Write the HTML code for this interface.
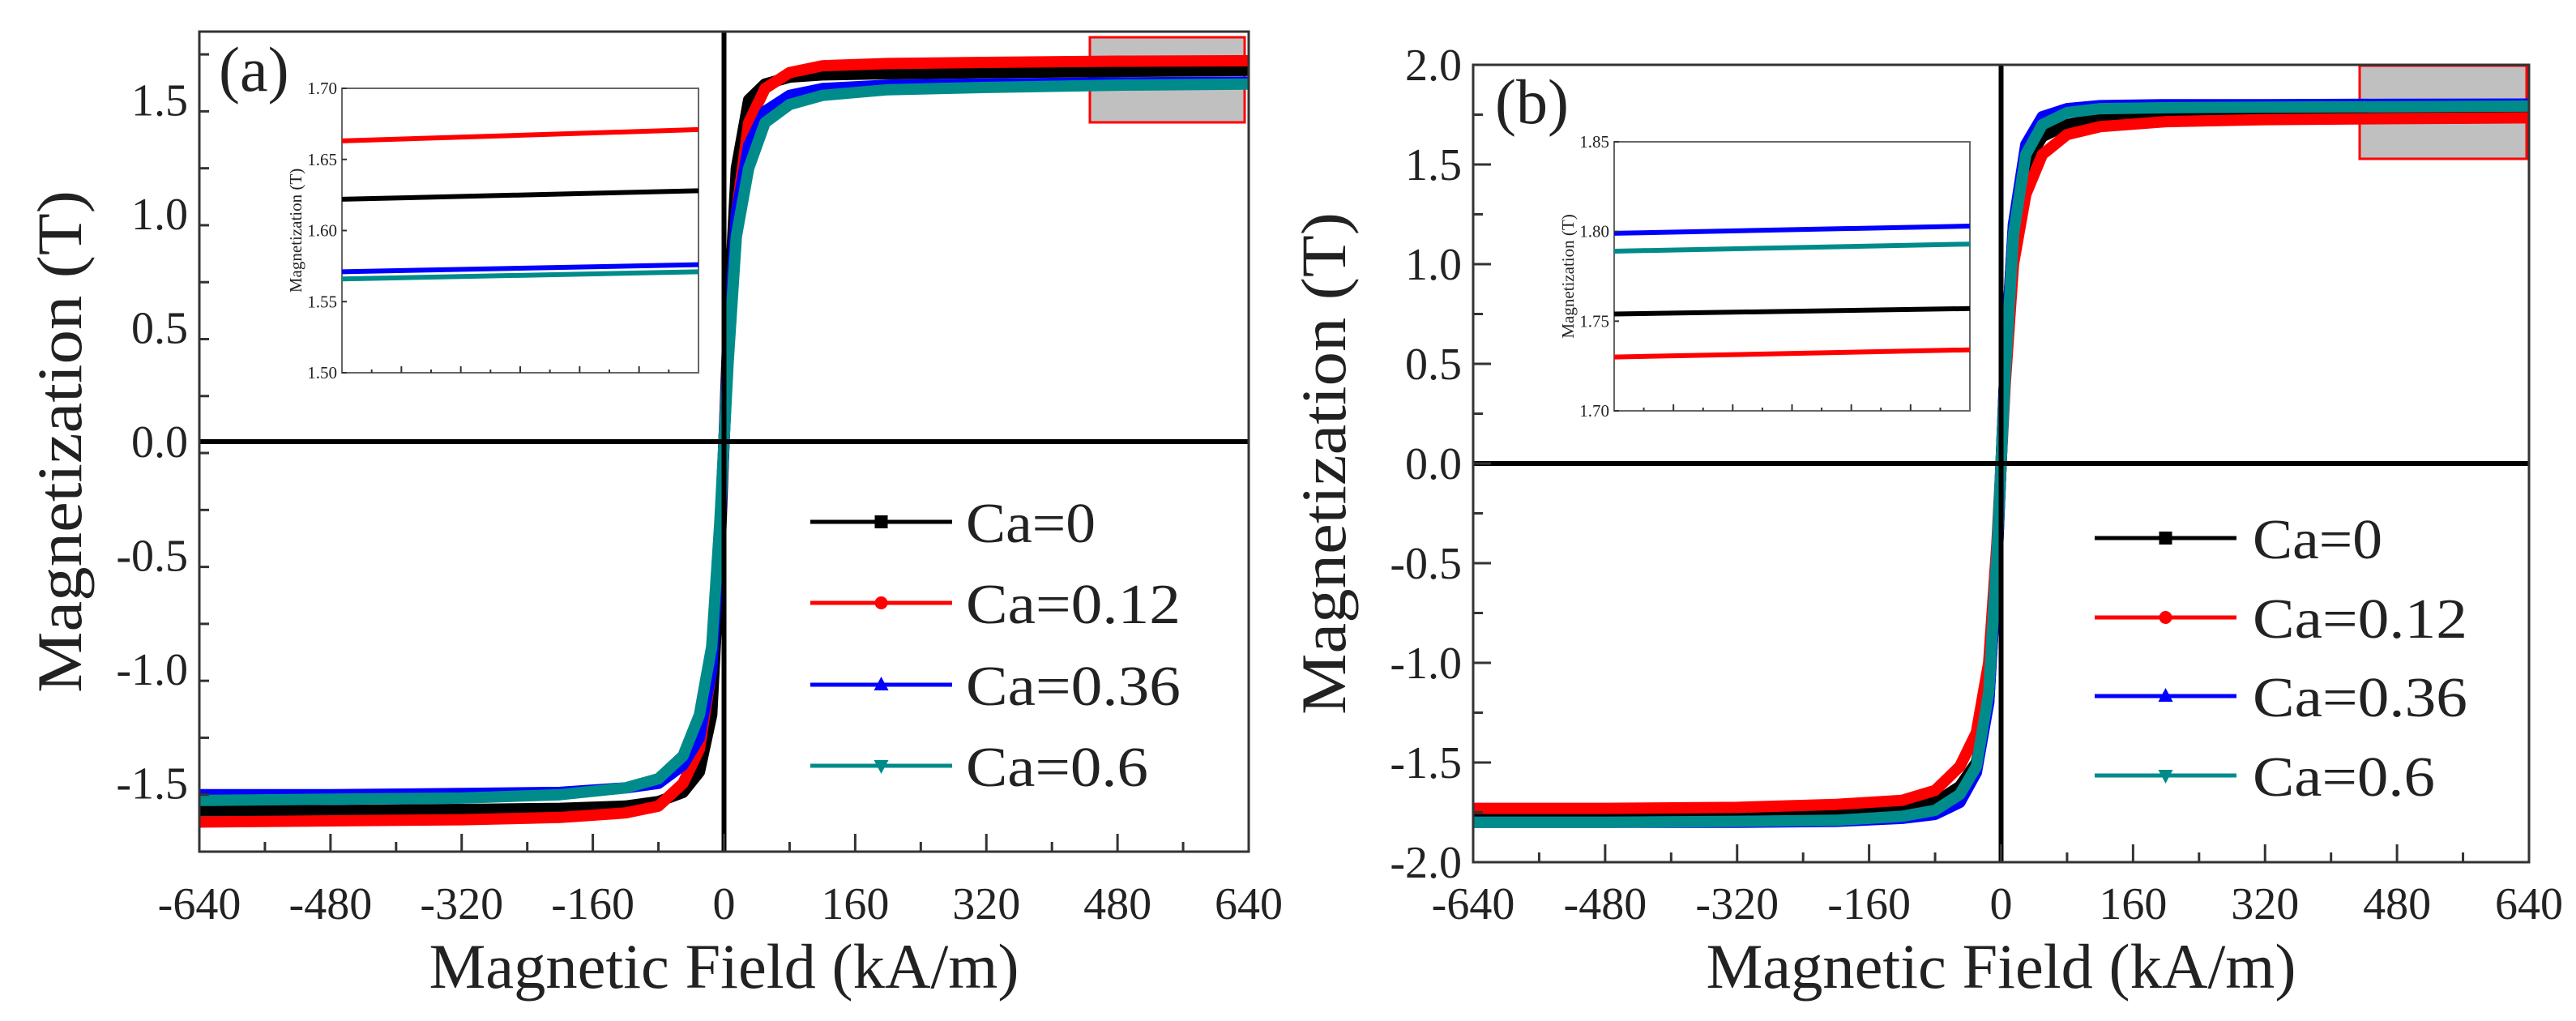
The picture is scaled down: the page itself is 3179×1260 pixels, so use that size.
<!DOCTYPE html>
<html><head><meta charset="utf-8"><style>
html,body{margin:0;padding:0;background:#fff;}
svg, svg text{font-family:"Liberation Serif","Times New Roman",serif;}
</style></head><body>
<svg id="fig" width="3179" height="1255" viewBox="0 0 3179 1255" xmlns="http://www.w3.org/2000/svg" font-family="Liberation Serif, serif"></svg>
<script>
// ---- data ----
const seriesNames = ["Ca=0","Ca=0.12","Ca=0.36","Ca=0.6"];
const seriesColors = ["#000000","#ff0000","#0000ff","#008b8b"];
const fieldH = [-640,-480,-320,-200,-120,-80,-50,-30,-15,-5,0,5,15,30,50,80,120,200,320,480,640];
const xTicks = [-640,-480,-320,-160,0,160,320,480,640];
const yTicksA = [-1.5,-1.0,-0.5,0.0,0.5,1.0,1.5];
const yTicksB = [-2.0,-1.5,-1.0,-0.5,0.0,0.5,1.0,1.5,2.0];
const aCa0   = [-1.62,-1.62,-1.615,-1.61,-1.60,-1.58,-1.54,-1.45,-1.2,-0.5,0,0.5,1.2,1.5,1.57,1.60,1.61,1.615,1.62,1.625,1.63];
const aCa012 = [-1.67,-1.665,-1.66,-1.65,-1.63,-1.60,-1.50,-1.35,-1.0,-0.4,0,0.4,1.0,1.40,1.55,1.62,1.65,1.66,1.665,1.67,1.672];
const aCa036 = [-1.55,-1.55,-1.545,-1.54,-1.52,-1.50,-1.42,-1.30,-1.0,-0.4,0,0.4,1.0,1.30,1.45,1.52,1.55,1.565,1.57,1.575,1.578];
const aCa06  = [-1.575,-1.57,-1.565,-1.55,-1.52,-1.48,-1.38,-1.20,-0.9,-0.35,0,0.35,0.9,1.20,1.40,1.48,1.52,1.545,1.555,1.565,1.57];
const bCa0   = [-1.76,-1.76,-1.755,-1.75,-1.73,-1.70,-1.62,-1.50,-1.2,-0.5,0,0.5,1.2,1.50,1.64,1.70,1.73,1.745,1.75,1.755,1.757];
const bCa012 = [-1.73,-1.73,-1.725,-1.71,-1.69,-1.64,-1.52,-1.35,-1.0,-0.4,0,0.4,1.0,1.35,1.55,1.65,1.69,1.715,1.725,1.73,1.734];
const bCa036 = [-1.80,-1.80,-1.80,-1.795,-1.78,-1.76,-1.70,-1.55,-1.2,-0.5,0,0.5,1.2,1.60,1.74,1.78,1.795,1.80,1.80,1.802,1.803];
const bCa06  = [-1.80,-1.80,-1.795,-1.79,-1.77,-1.74,-1.66,-1.52,-1.15,-0.45,0,0.45,1.15,1.55,1.70,1.76,1.78,1.785,1.788,1.79,1.793];
const insetX = [0,1];
const insetATicks = [1.50,1.55,1.60,1.65,1.70];
const insetA = [[1.622,1.628],[1.663,1.671],[1.571,1.576],[1.566,1.571]];
const insetBTicks = [1.70,1.75,1.80,1.85];
const insetB = [[1.754,1.757],[1.730,1.734],[1.799,1.803],[1.789,1.793]];

const NS="http://www.w3.org/2000/svg";
const FONT='"Liberation Serif", serif';
const fig=document.getElementById('fig');
function el(tag,attrs,parent,txt){const e=document.createElementNS(NS,tag);for(const k in attrs)e.setAttribute(k,attrs[k]);if(tag==='text')e.setAttribute('font-family',FONT);if(txt!==undefined)e.textContent=txt;(parent||fig).appendChild(e);return e;}

function marker(g,type,x,y,c){
  let m;
  if(type===0) m=el('rect',{x:x-8,y:y-8,width:16,height:16,fill:c},g);
  else if(type===1) m=el('circle',{cx:x,cy:y,r:8,fill:c},g);
  else if(type===2) m=el('polygon',{points:`${x},${y-10} ${x-9},${y+7} ${x+9},${y+7}`,fill:c},g);
  else m=el('polygon',{points:`${x},${y+10} ${x-9},${y-7} ${x+9},${y-7}`,fill:c},g);
  
  
}

function panel(P){
  const g=el('g',{});
  
  
  const sx=v=>P.L+(v-(-640))/1280*(P.R-P.L);
  const sy=v=>P.B-(v-P.ymin)/(P.ymax-P.ymin)*(P.B-P.T);
  const gb=el('rect',{x:P.box[0],y:P.box[1],width:P.box[2]-P.box[0],height:P.box[3]-P.box[1],fill:'#c0c0c0',stroke:'#ff0000','stroke-width':3},g);
  
  
  P.data.forEach((arr,i)=>{
    const d=arr.map((v,j)=>(j?'L':'M')+sx(fieldH[j]).toFixed(1)+','+sy(v).toFixed(1)).join(' ');
    const p=el('path',{d:d,fill:'none',stroke:seriesColors[i],'stroke-width':14,'stroke-linejoin':'round'},g);
    
    
  });
  const zl1=el('line',{x1:P.L,x2:P.R,y1:sy(0),y2:sy(0),stroke:'#000','stroke-width':6},g);
  
  
  const zl2=el('line',{x1:sx(0),x2:sx(0),y1:P.T,y2:P.B,stroke:'#000','stroke-width':6},g);
  
  
  const fr=el('rect',{x:P.L,y:P.T,width:P.R-P.L,height:P.B-P.T,fill:'none',stroke:'#333','stroke-width':3},g);
  
  
  for(let v=-640;v<=640;v+=80){
    const major=(v%160===0);
    el('line',{x1:sx(v),x2:sx(v),y1:P.B,y2:P.B-(major?22:12),stroke:'#333','stroke-width':3},g);
  }
  xTicks.forEach(v=>{
    const t=el('text',{x:sx(v),y:1134,'font-size':56,'text-anchor':'middle',fill:'#222'},g,String(v));
    
    
  });
  for(let v=P.ymin;v<=P.ymax+1e-9;v+=0.25){
    const major=Math.abs(Math.round(v*2)-v*2)<1e-6;
    el('line',{x1:P.L,x2:P.L+(major?22:12),y1:sy(v),y2:sy(v),stroke:'#333','stroke-width':3},g);
  }
  P.yTicks.forEach(v=>{
    const t=el('text',{x:P.L-14,y:sy(v)+19,'font-size':56,'text-anchor':'end',fill:'#222'},g,v.toFixed(1));
    
    
  });
  const xt=el('text',{x:(P.L+P.R)/2,y:1219,'font-size':78,'text-anchor':'middle',textLength:728,lengthAdjust:'spacingAndGlyphs',fill:'#222'},g,'Magnetic Field (kA/m)');
  
  
  const yc=(P.T+P.B)/2;
  const yt=el('text',{x:0,y:0,'font-size':78,'text-anchor':'middle',textLength:620,lengthAdjust:'spacingAndGlyphs',transform:`translate(${P.ylabX},${yc}) rotate(-90)`,fill:'#222'},g,'Magnetization  (T)');
  
  
  const pl=el('text',{x:P.lab[0],y:P.lab[1],'font-size':78,fill:'#222'},g,P.label);
  
  
  P.leg.ys.forEach((y,i)=>{
    const lg=el('g',{},g);
    
    
    el('line',{x1:P.leg.x1,x2:P.leg.x2,y1:y,y2:y,stroke:seriesColors[i],'stroke-width':5},lg);
    marker(lg,i,(P.leg.x1+P.leg.x2)/2,y,seriesColors[i]);
    const lt=el('text',{x:P.leg.tx,y:y+25,'font-size':70,textLength:[160,265,265,225][i],lengthAdjust:'spacingAndGlyphs',fill:'#222'},lg,seriesNames[i]);
    
    
  });
  const I=P.inset;
  const ig=el('g',{},g);
  
  
  el('rect',{x:I.L,y:I.T,width:I.R-I.L,height:I.B-I.T,fill:'#fff',stroke:'#666','stroke-width':2},ig);
  const ix=v=>I.L+v*(I.R-I.L);
  const iy=v=>I.B-(v-I.ymin)/(I.ymax-I.ymin)*(I.B-I.T);
  I.data.forEach((arr,i)=>{
    const d=arr.map((v,j)=>(j?'L':'M')+ix(insetX[j]).toFixed(1)+','+iy(v).toFixed(1)).join(' ');
    const p=el('path',{d:d,fill:'none',stroke:seriesColors[i],'stroke-width':6},ig);
    
    
  });
  for(let k=1;k<12;k++){const x=I.L+k*(I.R-I.L)/12;el('line',{x1:x,x2:x,y1:I.B,y2:I.B-(k%2?4:8),stroke:'#333','stroke-width':2},ig);}
  I.ticks.forEach(v=>{
    el('line',{x1:I.L,x2:I.L+6,y1:iy(v),y2:iy(v),stroke:'#333','stroke-width':2},ig);
    const t=el('text',{x:I.L-6,y:iy(v)+7,'font-size':21,'text-anchor':'end',fill:'#222'},ig,v.toFixed(2));
    
    
  });
  const it=el('text',{x:0,y:0,'font-size':21,'text-anchor':'middle',transform:`translate(${I.L-50},${(I.T+I.B)/2}) rotate(-90)`,fill:'#222'},ig,'Magnetization  (T)');
  
  
}

panel({name:'panel-a',L:246,R:1541,T:39,B:1051,ymin:-1.8,ymax:1.8,yTicks:yTicksA,
  data:[aCa0,aCa012,aCa036,aCa06],box:[1345,46,1536,151],ylabX:100,label:'(a)',lab:[270,112],
  leg:{x1:1000,x2:1175,tx:1192,ys:[644,744,845,945]},
  inset:{L:422,R:862,T:109,B:460,ymin:1.5,ymax:1.7,ticks:insetATicks,data:insetA}});
panel({name:'panel-b',L:1818,R:3121,T:80,B:1064,ymin:-2,ymax:2,yTicks:yTicksB,
  data:[bCa0,bCa012,bCa036,bCa06],box:[2912,81,3118,196],ylabX:1660,label:'(b)',lab:[1845,152],
  leg:{x1:2585,x2:2760,tx:2780,ys:[664,762,859,957]},
  inset:{L:1992,R:2431,T:175,B:507,ymin:1.7,ymax:1.85,ticks:insetBTicks,data:insetB}});
</script>
</body></html>
